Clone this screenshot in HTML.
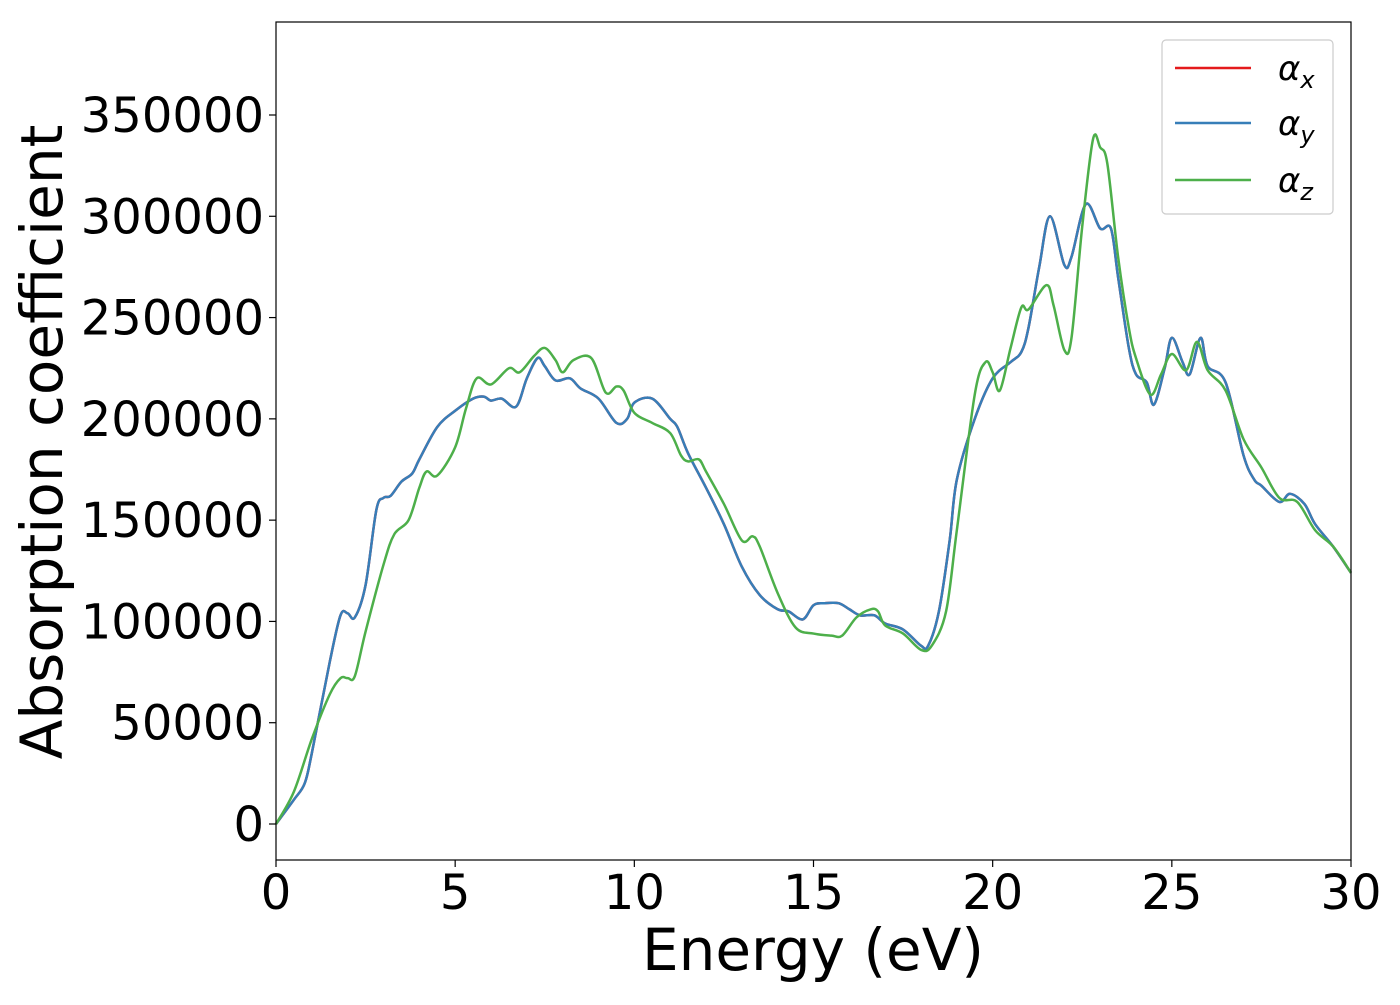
<!DOCTYPE html>
<html><head><meta charset="utf-8"><style>
body{margin:0;background:#fff}
svg{font-family:"DejaVu Sans","Liberation Sans",sans-serif}
</style></head><body>
<svg id="chart" width="1400" height="1000" xmlns="http://www.w3.org/2000/svg">
<rect x="0" y="0" width="1400" height="1000" fill="#fff"/>
<g id="xticks"></g>
<g id="yticks"></g>
<g id="series"></g>
<rect x="276" y="22" width="1075" height="838" fill="none" stroke="#000" stroke-width="1.2"/>
<text x="813" y="970" font-size="58" text-anchor="middle">Energy (eV)</text>
<text transform="translate(62,442) rotate(-90)" font-size="58" text-anchor="middle">Absorption coefficient</text>
<g>
<rect x="1162" y="40" width="171" height="174" rx="4" fill="#fff" stroke="#ccc" stroke-width="1.2"/>
<line x1="1175" y1="68" x2="1251" y2="68" stroke="#e41a1c" stroke-width="2.5"/>
<text x="1278" y="80" font-size="34" font-style="italic">α<tspan font-size="24" dy="8">x</tspan></text>
<line x1="1175" y1="123" x2="1251" y2="123" stroke="#377eb8" stroke-width="2.5"/>
<text x="1278" y="135" font-size="34" font-style="italic">α<tspan font-size="24" dy="8">y</tspan></text>
<line x1="1175" y1="180" x2="1251" y2="180" stroke="#4daf4a" stroke-width="2.5"/>
<text x="1278" y="192" font-size="34" font-style="italic">α<tspan font-size="24" dy="8">z</tspan></text>
</g>
</svg>
<script>
const xTicks=[0,5,10,15,20,25,30];
const yTicks=[0,50000,100000,150000,200000,250000,300000,350000];
const energyXY=[0,0.5,0.8,1,1.5,1.8,2,2.2,2.5,2.8,3,3.2,3.5,3.8,4,4.5,5,5.5,5.8,6,6.3,6.7,7,7.3,7.5,7.8,8.2,8.5,9,9.5,9.8,10,10.5,11,11.2,11.5,12,12.5,13,13.5,14,14.3,14.7,15,15.3,15.7,16,16.3,16.7,17,17.5,18,18.2,18.5,18.8,19,19.5,20,20.5,20.8,21,21.3,21.6,22,22.2,22.6,23,23.3,23.5,23.8,24,24.3,24.5,24.8,25,25.3,25.5,25.8,26,26.5,27,27.3,27.5,28,28.3,28.7,29,29.5,30];
const alphaXY=[0,12000,20000,35000,80000,103000,104000,102000,118000,155000,161000,162000,169000,173000,180000,196000,204000,210000,211000,209000,210000,206000,220000,230000,226000,219000,220000,215000,210000,198000,200000,208000,210000,200000,196000,183000,166000,148000,127000,113000,106000,105000,101000,108000,109000,109000,106000,103000,103000,99000,96000,88000,88000,105000,140000,170000,200000,220000,228000,233000,245000,275000,300000,276000,280000,306000,294000,294000,270000,235000,222000,218000,207000,225000,240000,228000,222000,240000,226000,218000,182000,170000,167000,159000,163000,158000,148000,137000,124000];
const energyZ=[0,0.5,1,1.5,1.8,2,2.2,2.5,3,3.3,3.7,4,4.2,4.5,5,5.3,5.6,6,6.5,6.8,7.2,7.5,7.8,8,8.3,8.8,9.2,9.5,9.7,10,10.5,11,11.3,11.5,11.8,12,12.5,13,13.3,13.5,14,14.5,15,15.5,15.8,16.2,16.6,16.8,17,17.5,18,18.3,18.7,19,19.5,19.8,20,20.2,20.5,20.8,21,21.5,21.7,22,22.2,22.5,22.8,23,23.2,23.5,23.8,24,24.4,24.7,25,25.4,25.7,26,26.5,27,27.5,28,28.5,29,29.5,30];
const alphaZ=[0,16000,42000,64000,72000,72000,73000,95000,128000,143000,150000,166000,174000,172000,186000,205000,220000,217000,225000,223000,231000,235000,229000,223000,229000,230000,213000,216000,214000,203000,198000,193000,182000,179000,180000,174000,158000,140000,142000,137000,114000,97000,94000,93000,93000,102000,106000,105000,98000,94000,86000,88000,105000,145000,212000,228000,223000,214000,235000,255000,254000,266000,256000,234000,240000,295000,338000,334000,326000,280000,245000,230000,212000,222000,232000,224000,238000,224000,214000,190000,176000,161000,159000,145000,137000,124000];
const NS="http://www.w3.org/2000/svg";
const X=v=>276+v*(1351-276)/30;
const Y=v=>824-v*(824-115)/350000;
function mk(t,a){const e=document.createElementNS(NS,t);for(const k in a)e.setAttribute(k,a[k]);return e;}
const xg=document.getElementById('xticks'),yg=document.getElementById('yticks'),sg=document.getElementById('series');
xTicks.forEach(t=>{
 const l=mk('line',{x1:X(t),x2:X(t),y1:860,y2:867,stroke:'#000','stroke-width':1.2});
 
 
 xg.appendChild(l);
 const tx=mk('text',{x:X(t),y:909,'font-size':48,'text-anchor':'middle'});
 
 
 tx.textContent=t;xg.appendChild(tx);
});
yTicks.forEach(t=>{
 const l=mk('line',{x1:269,x2:276,y1:Y(t),y2:Y(t),stroke:'#000','stroke-width':1.2});
 
 
 yg.appendChild(l);
 const tx=mk('text',{x:264,y:Y(t)+17,'font-size':48,'text-anchor':'end'});
 
 
 tx.textContent=t;yg.appendChild(tx);
});
function pathD(xs,ys){
 const p=xs.map((x,i)=>[X(x),Y(ys[i])]);
 let d='M'+p[0][0]+','+p[0][1];
 for(let i=0;i<p.length-1;i++){
  const p0=p[Math.max(0,i-1)],p1=p[i],p2=p[i+1],p3=p[Math.min(p.length-1,i+2)];
  const c1=[p1[0]+(p2[0]-p0[0])/6,p1[1]+(p2[1]-p0[1])/6];
  const c2=[p2[0]-(p3[0]-p1[0])/6,p2[1]-(p3[1]-p1[1])/6];
  d+=' C'+c1+' '+c2+' '+p2;
 }
 return d;
}
[[energyXY,alphaXY,'#e41a1c','series-alpha-x'],[energyXY,alphaXY,'#377eb8','series-alpha-y'],[energyZ,alphaZ,'#4daf4a','series-alpha-z']].forEach(s=>{
 const p=mk('path',{d:pathD(s[0],s[1]),fill:'none',stroke:s[2],'stroke-width':2.5,'stroke-linejoin':'round'});
 
 
 sg.appendChild(p);
});
</script>
</body></html>
